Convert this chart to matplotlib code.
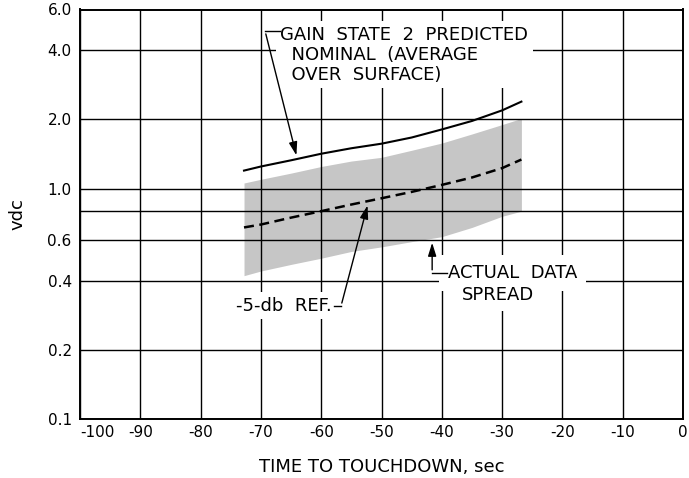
import numpy as np
import matplotlib
matplotlib.use("Agg")
import matplotlib.pyplot as plt
from matplotlib.ticker import FixedLocator, NullLocator

# values
time_s = [-72.8, -70, -65, -60, -55, -50, -45, -40, -35, -30, -26.8]
nominal = [1.20, 1.25, 1.33, 1.42, 1.50, 1.57, 1.67, 1.81, 1.97, 2.19, 2.39]    # gain state 2 predicted
ref_5db = [0.68, 0.70, 0.75, 0.80, 0.855, 0.91, 0.97, 1.04, 1.12, 1.23, 1.34]    # -5-db reference
spread_hi = [1.06, 1.10, 1.17, 1.25, 1.32, 1.37, 1.47, 1.58, 1.73, 1.90, 2.02]   # actual data spread
spread_lo = [0.42, 0.44, 0.47, 0.50, 0.535, 0.56, 0.59, 0.62, 0.68, 0.76, 0.80]

x_ticks = [-100, -90, -80, -70, -60, -50, -40, -30, -20, -10, 0]
x_labels = ["-100", "-90", "-80", "-70", "-60", "-50", "-40", "-30", "-20", "-10", "0"]
y_ticks = [0.1, 0.2, 0.4, 0.6, 0.8, 1.0, 2.0, 4.0, 6.0]
y_labels = ["0.1", "0.2", "0.4", "0.6", "", "1.0", "2.0", "4.0", "6.0"]

plt.rcParams["font.family"] = "DejaVu Sans"

fig = plt.figure(figsize=(6.89, 4.78), dpi=100)
ax = fig.add_axes([80 / 689, 1 - 419.3 / 478, 603 / 689, 409.8 / 478])

ax.set_yscale("log")
ax.set_xlim(-100, 0)
ax.set_ylim(0.1, 6.0)

ax.fill_between(time_s, spread_lo, spread_hi, color="#c6c6c6", lw=0, zorder=1)
ax.plot(time_s, nominal, color="black", lw=1.5, zorder=3)
ax.plot(time_s, ref_5db, color="black", lw=1.8, dashes=(4, 2.2), zorder=3)

# grid
ax.xaxis.set_major_locator(FixedLocator(x_ticks))
ax.set_xticklabels(x_labels)
ax.yaxis.set_major_locator(FixedLocator(y_ticks))
ax.yaxis.set_minor_locator(NullLocator())
ax.set_yticklabels(y_labels)
ax.grid(True, color="black", lw=1.0, zorder=2)
ax.set_axisbelow(False)
ax.tick_params(length=0, labelsize=11)
ax.tick_params(axis="x", pad=4)
ax.tick_params(axis="y", pad=6)
ax.get_xticklabels()[0].set_ha("left")
for s in ax.spines.values():
    s.set_linewidth(1.4)

ax.set_xlabel("TIME TO TOUCHDOWN, sec", fontsize=13, va="center")
ax.xaxis.set_label_coords(0.5, -0.1164)
ax.set_ylabel("vdc", fontsize=13, va="center")
ax.yaxis.set_label_coords(-0.1045, 0.5)

box = dict(boxstyle="square,pad=0.25", fc="white", ec="none")
lead = dict(color="black", lw=1.0, zorder=5)
arrow = dict(arrowstyle="-|>,head_length=0.8,head_width=0.25", color="black", lw=1.0)

# nominal label
ax.text(-66.8, 3.82, "GAIN  STATE  2  PREDICTED\n  NOMINAL  (AVERAGE\n  OVER  SURFACE)",
        fontsize=13, ha="left", va="center", linespacing=1.15, bbox=box, zorder=4)
ax.plot([-66.8, -69.3], [4.83, 4.83], **lead)
ax.annotate("", xy=(-64.0, 1.36), xytext=(-69.3, 4.83), arrowprops=arrow, zorder=5)

# -5-db ref label
ax.text(-58.2, 0.311, "-5-db  REF.", fontsize=13, ha="right", va="center", bbox=box, zorder=4)
ax.plot([-57.9, -56.7], [0.311, 0.311], **lead)
ax.annotate("", xy=(-52.2, 0.87), xytext=(-56.7, 0.311), arrowprops=arrow, zorder=5)

# data spread label
ax.text(-39.0, 0.433, "ACTUAL  DATA", fontsize=13, ha="left", va="center",
        bbox=dict(boxstyle="square,pad=0.5", fc="white", ec="none"), zorder=4)
ax.text(-36.6, 0.347, "SPREAD", fontsize=13, ha="left", va="center",
        bbox=dict(boxstyle="square,pad=0.4", fc="white", ec="none"), zorder=4)
ax.plot([-39.2, -41.6], [0.433, 0.433], **lead)
ax.annotate("", xy=(-41.6, 0.60), xytext=(-41.6, 0.433), arrowprops=arrow, zorder=5)

fig.savefig("out.png", dpi=100)
